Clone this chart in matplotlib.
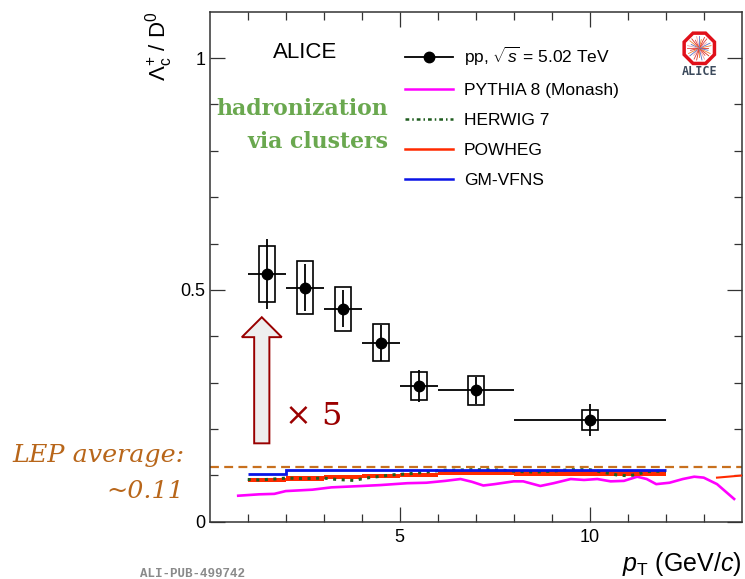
import numpy as np
import matplotlib
matplotlib.use('Agg')
import matplotlib.pyplot as plt
from matplotlib.lines import Line2D
from matplotlib.patches import FancyArrow, RegularPolygon

plt.rcParams['font.family'] = ['Liberation Sans', 'DejaVu Sans']
plt.rcParams['mathtext.fontset'] = 'custom'
plt.rcParams['mathtext.rm'] = 'Liberation Sans'
plt.rcParams['mathtext.it'] = 'Liberation Sans:italic'
plt.rcParams['mathtext.bf'] = 'Liberation Sans:bold'

# ALICE Lc/D0 in pp 5.02 TeV
pt      = [1.5, 2.5, 3.5, 4.5, 5.5, 7.0, 10.0]
pt_lo   = [1, 2, 3, 4, 5, 6, 8]
pt_hi   = [2, 3, 4, 5, 6, 8, 12]
ratio   = [0.534, 0.505, 0.459, 0.386, 0.293, 0.283, 0.219]
stat    = [0.075, 0.051, 0.040, 0.039, 0.035, 0.030, 0.034]
syst    = [0.061, 0.058, 0.047, 0.040, 0.030, 0.031, 0.022]

# models
bin_edges   = [1, 2, 3, 4, 5, 6, 8, 12]
gmvfns      = [0.1036, 0.111, 0.111, 0.111, 0.111, 0.1115, 0.1115]
powheg      = [0.090, 0.093, 0.0955, 0.098, 0.101, 0.105, 0.104]
powheg_err  = [0.0045, 0.0045, 0.0045, 0.0045, 0.0048, 0.0048, 0.0048]
powheg_tail_x = [13.35, 14.0]
powheg_tail_y = [0.095, 0.0996]

herwig_x = [1.0, 1.3, 1.7, 2.0, 2.5, 3.0, 3.35, 3.8, 4.1, 4.4, 4.8, 5.2, 5.7, 6.1,
            6.4, 6.9, 7.3, 7.7, 8.2, 8.6, 9.0, 9.5, 10.0, 10.4, 10.7, 11.0, 11.2,
            11.5, 12.0]
herwig_y = [0.091, 0.090, 0.092, 0.094, 0.093, 0.094, 0.091, 0.089, 0.094, 0.097,
            0.101, 0.103, 0.107, 0.111, 0.111, 0.112, 0.112, 0.111, 0.108, 0.107,
            0.109, 0.112, 0.112, 0.106, 0.101, 0.099, 0.101, 0.108, 0.109]

pythia_x = [0.75, 1.3, 1.7, 2.0, 2.7, 3.2, 4.0, 4.5, 5.2, 5.7, 6.2, 6.6, 6.9, 7.2,
            7.5, 8.0, 8.25, 8.7, 9.05, 9.5, 9.85, 10.2, 10.55, 10.9, 11.25, 11.5,
            11.75, 12.1, 12.45, 12.75, 13.0, 13.35, 13.8]
pythia_y = [0.056, 0.059, 0.060, 0.066, 0.069, 0.074, 0.077, 0.079, 0.083, 0.084,
            0.088, 0.092, 0.086, 0.078, 0.081, 0.087, 0.087, 0.077, 0.083, 0.092,
            0.090, 0.092, 0.087, 0.088, 0.097, 0.092, 0.081, 0.084, 0.092, 0.097,
            0.095, 0.081, 0.049]

lep_avg = 0.118

fig = plt.figure(figsize=(7.45, 5.79), dpi=100)
ax  = fig.add_axes([0.2815, 0.099, 0.7141, 0.8808])

ax.axhline(lep_avg, color='#c8701e', lw=1.6, ls=(0, (4, 2.4)), zorder=1)

ax.plot(pythia_x, pythia_y, color='#ff00ff', lw=1.9, zorder=2)

pw_lo = [v - e for v, e in zip(powheg, powheg_err)]
pw_hi = [v + e for v, e in zip(powheg, powheg_err)]
ax.fill_between(bin_edges, pw_lo + [pw_lo[-1]], pw_hi + [pw_hi[-1]], step='post',
                color='#ff2a00', lw=0, zorder=3)
ax.plot(powheg_tail_x, powheg_tail_y, color='#ff2a00', lw=1.5, zorder=3)

ax.plot(herwig_x, herwig_y, color='#1f5c1f', lw=2.2, ls=(0, (1.0, 1.8)), zorder=4)

ax.stairs(gmvfns, bin_edges, color='#0a14e6', lw=2.0, baseline=None, zorder=5)

# data: syst boxes, stat bars, markers
y_lo = [r - s for r, s in zip(ratio, syst)]
ax.bar(pt, [2 * s for s in syst], bottom=y_lo, width=0.42, fill=False,
       edgecolor='black', lw=1.2, zorder=6)
xerr = [[p - lo for p, lo in zip(pt, pt_lo)], [hi - p for p, hi in zip(pt, pt_hi)]]
ax.errorbar(pt, ratio, xerr=xerr, yerr=stat, fmt='o', color='black', ms=7.5,
            elinewidth=1.3, capsize=0, zorder=7)

ax.set_xlim(0, 14)
ax.set_ylim(0, 1.1)
ax.set_xticks([5, 10])
ax.set_xticks(np.arange(1, 14), minor=True)
ax.set_yticks([0, 0.5, 1])
ax.set_yticklabels(['0', '0.5', '1'])
ax.set_yticks(np.arange(0.1, 1.1, 0.1), minor=True)
ax.tick_params(which='both', direction='in', top=True, right=True, labelsize=13,
               width=0.9, color='#333333')
ax.tick_params(which='major', length=11)
ax.tick_params(which='minor', length=6)
ax.tick_params(axis='y', pad=3)
ax.tick_params(axis='x', pad=5)
for s in ax.spines.values():
    s.set_linewidth(1.1)
    s.set_color('#333333')

ax.set_xlabel(r'$p_{\rm T}$ (GeV/$c$)', fontsize=18, loc='right', labelpad=3)
ax.set_ylabel(r'$\Lambda_{\rm c}^{+}$ / D$^{0}$', fontsize=16, loc='top', labelpad=4)

handles = [
    Line2D([], [], color='black', marker='o', ms=7.5, lw=1.3),
    Line2D([], [], color='#ff00ff', lw=1.8),
    Line2D([], [], color='#1f5c1f', lw=1.8, ls=(0, (1.5, 1.2, 0.6, 1.2))),
    Line2D([], [], color='#ff2a00', lw=1.8),
    Line2D([], [], color='#0a14e6', lw=1.8),
]
labels = [r'pp, $\sqrt{s}$ = 5.02 TeV', 'PYTHIA 8 (Monash)', 'HERWIG 7', 'POWHEG', 'GM-VFNS']
ax.legend(handles, labels, loc='upper left', bbox_to_anchor=(0.368, 0.935),
          frameon=False, fontsize=12.5, handlelength=2.75, handletextpad=0.6,
          labelspacing=0.86, borderpad=0, borderaxespad=0)

ax.text(1.66, 1.0, 'ALICE', fontsize=16, ha='left', va='baseline')

ax.text(4.70, 0.878, 'hadronization', family='DejaVu Serif', weight='bold',
        fontsize=15.8, color='#6aa84f', ha='right', va='baseline')
ax.text(4.70, 0.806, 'via clusters', family='DejaVu Serif', weight='bold',
        fontsize=15.8, color='#6aa84f', ha='right', va='baseline')

# the x5 arrow
ax.add_patch(FancyArrow(1.37, 0.169, 0, 0.272, width=0.40, head_width=1.05,
                        head_length=0.043, length_includes_head=True,
                        facecolor='#eeeeee', edgecolor='#990000', lw=1.4, zorder=8))
ax.text(1.98, 0.209, '× 5', family='DejaVu Serif', fontsize=23, color='#9b0000',
        ha='left', va='baseline')

fig.text(0.248, 0.2026, 'LEP average:', family='DejaVu Serif', style='italic',
         fontsize=18.3, color='#b8661a', ha='right', va='baseline')
fig.text(0.247, 0.140, '~0.11', family='DejaVu Serif', style='italic',
         fontsize=18.3, color='#b8661a', ha='right', va='baseline')

fig.text(0.259, 0.008, 'ALI-PUB-499742', family='Liberation Mono', weight='bold',
         fontsize=9, color='#8a8a8a', ha='center', va='center')

# ALICE logo (rough)
lax = fig.add_axes([(699.3 - 20) / 745, 1 - (48.3 + 20) / 579, 40 / 745, 40 / 579])
lax.set_xlim(-1, 1)
lax.set_ylim(-1, 1)
lax.set_aspect('equal')
lax.axis('off')
lax.add_patch(RegularPolygon((0, 0), 8, radius=0.82, orientation=np.pi / 8,
                             facecolor='white', edgecolor='#e0101a', lw=2.5))
ray_cols = ['#e03020', '#f08030', '#6070c0', '#f0a0a0', '#e04040']
for i, a in enumerate(np.linspace(0, 2 * np.pi, 28, endpoint=False)):
    r = 0.6 if i % 3 else 0.45
    lax.plot([0, r * np.cos(a)], [0, r * np.sin(a)], color=ray_cols[i % 5], lw=0.6)
fig.text(699.3 / 745, 1 - 71.7 / 579, 'ALICE', family='DejaVu Sans Mono',
         weight='bold', fontsize=8.5, color='#3c4a5c', ha='center', va='center')

fig.savefig('out.png', dpi=100)
